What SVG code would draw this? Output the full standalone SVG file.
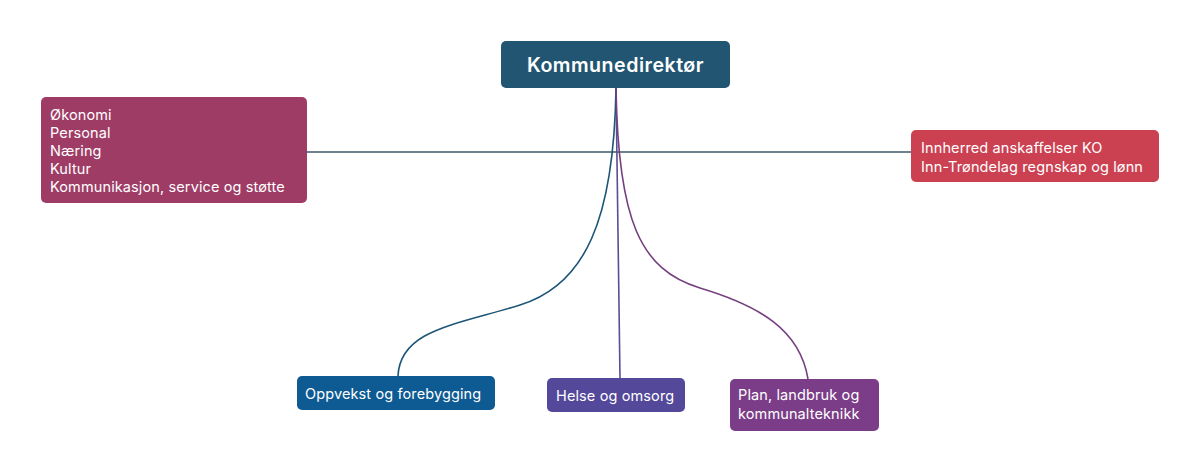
<svg xmlns="http://www.w3.org/2000/svg" width="1200" height="473" viewBox="0 0 1200 473">
<style>
.t{font-family:Inter,"Open Sans","Liberation Sans",sans-serif;fill:#ffffff;font-size:14.5px;letter-spacing:0.12px}
.b{font-weight:600;font-size:19.6px;letter-spacing:0.5px}
.c{fill:none;stroke-width:1.6}
</style>
<rect width="1200" height="473" fill="#ffffff"/>
<g id="connectors">
<path class="c" d="M307,152 H911" stroke="#3d5868"/>
<path class="c" d="M616,88 L620,378" stroke="#5a4e95"/>
<path class="c" d="M616,88 C614,220 585,285 520,305 C455,325 400,330 398,376" stroke="#1d5577"/>
<path class="c" d="M616,88 C618,220 640,270 700,288 C760,306 800,330 808,379" stroke="#74407f"/>
</g>
<g id="kommunedirektor">
<rect x="501" y="41" width="229" height="47" rx="5" fill="#215571"/>
<text class="t b" x="615.5" y="71.5" text-anchor="middle">Kommunedirektør</text>
</g>
<g id="stab">
<rect x="41" y="97" width="266" height="106" rx="5" fill="#9e3c66"/>
<text class="t" x="50" y="120">Økonomi</text>
<text class="t" x="50" y="138">Personal</text>
<text class="t" x="50" y="156">Næring</text>
<text class="t" x="50" y="174">Kultur</text>
<text class="t" x="50" y="192">Kommunikasjon, service og støtte</text>
</g>
<g id="innherred">
<rect x="911" y="130" width="248" height="52" rx="5" fill="#cb4152"/>
<text class="t" x="921" y="152.5">Innherred anskaffelser KO</text>
<text class="t" x="921" y="171.5">Inn-Trøndelag regnskap og lønn</text>
</g>
<g id="oppvekst">
<rect x="297" y="376" width="198" height="34" rx="5" fill="#0e5a93"/>
<text class="t" x="305" y="398.5">Oppvekst og forebygging</text>
</g>
<g id="helse">
<rect x="547" y="378" width="138" height="34" rx="5" fill="#54489a"/>
<text class="t" x="556" y="400.5">Helse og omsorg</text>
</g>
<g id="plan">
<rect x="730" y="379" width="149" height="52" rx="5" fill="#7b3d88"/>
<text class="t" x="738" y="399.5">Plan, landbruk og</text>
<text class="t" x="738" y="418.5">kommunalteknikk</text>
</g>
</svg>
